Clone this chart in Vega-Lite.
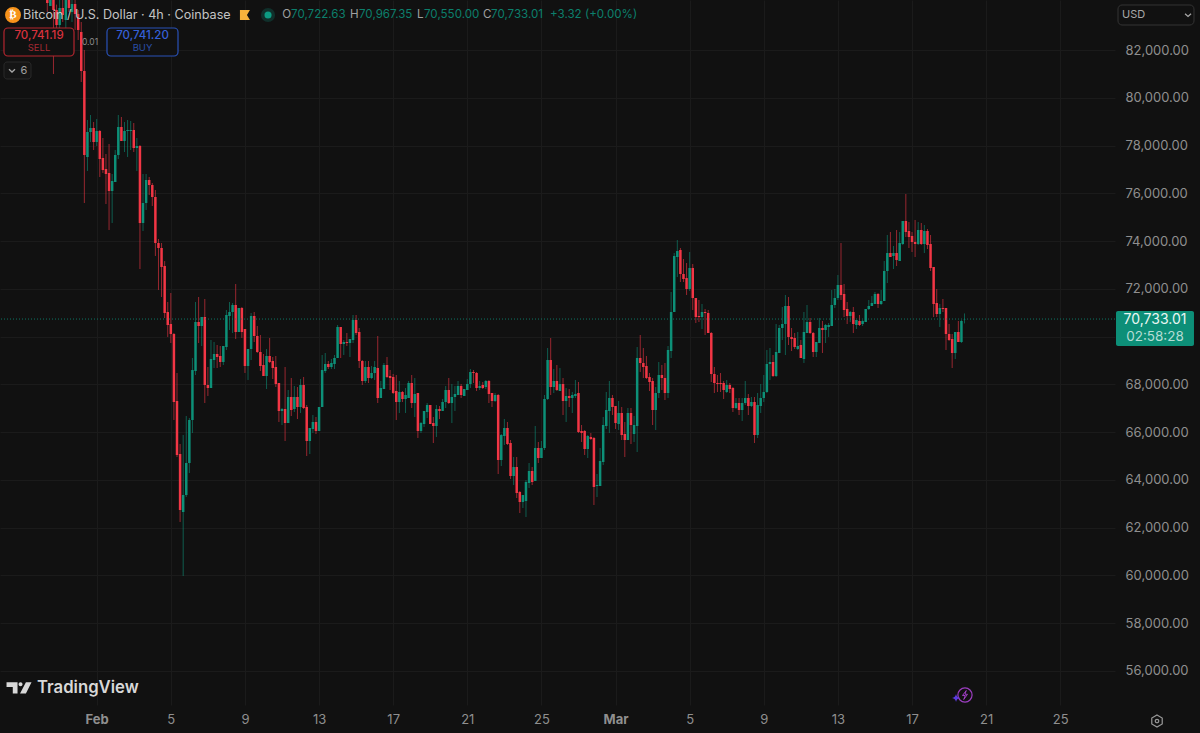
{
"$schema":"https://vega.github.io/schema/vega-lite/v6.json",
"autosize":{"type":"none"},
"padding":{"left":0,"top":0,"right":85,"bottom":28},
"width":1115,"height":705,
"background":"#111111",
"config":{"view":{"stroke":null},"font":"Inter","text":{"font":"Inter"}},
"data":{"values":[
{"t":"2026-01-29T08:00Z","o":84513,"h":84932,"l":83591,"c":83968},
{"t":"2026-01-29T12:00Z","o":83843,"h":84700,"l":83843,"c":84303},
{"t":"2026-01-29T16:00Z","o":84303,"h":84600,"l":80995,"c":83675},
{"t":"2026-01-29T20:00Z","o":83675,"h":83900,"l":82838,"c":83047},
{"t":"2026-01-30T00:00Z","o":83047,"h":84200,"l":82838,"c":83759},
{"t":"2026-01-30T04:00Z","o":83759,"h":84100,"l":83173,"c":83466},
{"t":"2026-01-30T08:00Z","o":83256,"h":84500,"l":82921,"c":84094},
{"t":"2026-01-30T12:00Z","o":84094,"h":84400,"l":83591,"c":83759},
{"t":"2026-01-30T16:00Z","o":83591,"h":84300,"l":83173,"c":83926},
{"t":"2026-01-30T20:00Z","o":83926,"h":84200,"l":82838,"c":83508},
{"t":"2026-01-31T00:00Z","o":83508,"h":83675,"l":82419,"c":82838},
{"t":"2026-01-31T04:00Z","o":82754,"h":83173,"l":80660,"c":81120},
{"t":"2026-01-31T08:00Z","o":81120,"h":82000,"l":75592,"c":77603},
{"t":"2026-01-31T12:00Z","o":77519,"h":79068,"l":76933,"c":78566},
{"t":"2026-01-31T16:00Z","o":78566,"h":79278,"l":78147,"c":78733},
{"t":"2026-01-31T20:00Z","o":78733,"h":78985,"l":77812,"c":78147},
{"t":"2026-02-01T00:00Z","o":78147,"h":79110,"l":77980,"c":78608},
{"t":"2026-02-01T04:00Z","o":78608,"h":78650,"l":76681,"c":77435},
{"t":"2026-02-01T08:00Z","o":77477,"h":78315,"l":76849,"c":76974},
{"t":"2026-02-01T12:00Z","o":77016,"h":77645,"l":75550,"c":76807},
{"t":"2026-02-01T16:00Z","o":76849,"h":78063,"l":74462,"c":76095},
{"t":"2026-02-01T20:00Z","o":76095,"h":76807,"l":74755,"c":76514},
{"t":"2026-02-02T00:00Z","o":76472,"h":77812,"l":76472,"c":77603},
{"t":"2026-02-02T04:00Z","o":77603,"h":79278,"l":77435,"c":78775},
{"t":"2026-02-02T08:00Z","o":78775,"h":79194,"l":78189,"c":78189},
{"t":"2026-02-02T12:00Z","o":78189,"h":78985,"l":77728,"c":78608},
{"t":"2026-02-02T16:00Z","o":78608,"h":79068,"l":77519,"c":78650},
{"t":"2026-02-02T20:00Z","o":78608,"h":79026,"l":77812,"c":78650},
{"t":"2026-02-03T00:00Z","o":78650,"h":78943,"l":77728,"c":77896},
{"t":"2026-02-03T04:00Z","o":77896,"h":78315,"l":76933,"c":77980},
{"t":"2026-02-03T08:00Z","o":77980,"h":78021,"l":72828,"c":74755},
{"t":"2026-02-03T12:00Z","o":74755,"h":76807,"l":74420,"c":75592},
{"t":"2026-02-03T16:00Z","o":75592,"h":76807,"l":75299,"c":76556},
{"t":"2026-02-03T20:00Z","o":76556,"h":76681,"l":75927,"c":76346},
{"t":"2026-02-04T00:00Z","o":76346,"h":76430,"l":75467,"c":75844},
{"t":"2026-02-04T04:00Z","o":75844,"h":76137,"l":73373,"c":73917},
{"t":"2026-02-04T08:00Z","o":73917,"h":74085,"l":71949,"c":73708},
{"t":"2026-02-04T12:00Z","o":73708,"h":73917,"l":71656,"c":72912},
{"t":"2026-02-04T16:00Z","o":72954,"h":73160,"l":70776,"c":70985},
{"t":"2026-02-04T20:00Z","o":71027,"h":71446,"l":69981,"c":70483},
{"t":"2026-02-05T00:00Z","o":70525,"h":71823,"l":69729,"c":70106},
{"t":"2026-02-05T04:00Z","o":70106,"h":70148,"l":66504,"c":67258},
{"t":"2026-02-05T08:00Z","o":67300,"h":68473,"l":64955,"c":65039},
{"t":"2026-02-05T12:00Z","o":65081,"h":65499,"l":62233,"c":62735},
{"t":"2026-02-05T16:00Z","o":62651,"h":65876,"l":59970,"c":63363},
{"t":"2026-02-05T20:00Z","o":63363,"h":66672,"l":63280,"c":64704},
{"t":"2026-02-06T00:00Z","o":64704,"h":66588,"l":64285,"c":66504},
{"t":"2026-02-06T04:00Z","o":66504,"h":69101,"l":65960,"c":68598},
{"t":"2026-02-06T08:00Z","o":68557,"h":71446,"l":68389,"c":70609},
{"t":"2026-02-06T12:00Z","o":70609,"h":71656,"l":69729,"c":70441},
{"t":"2026-02-06T16:00Z","o":70441,"h":70818,"l":69604,"c":70818},
{"t":"2026-02-06T20:00Z","o":70818,"h":71572,"l":67216,"c":67970},
{"t":"2026-02-07T00:00Z","o":67970,"h":68724,"l":67510,"c":67845},
{"t":"2026-02-07T04:00Z","o":67845,"h":69855,"l":67845,"c":69059},
{"t":"2026-02-07T08:00Z","o":69017,"h":69771,"l":68682,"c":69269},
{"t":"2026-02-07T12:00Z","o":69269,"h":69646,"l":68682,"c":69143},
{"t":"2026-02-07T16:00Z","o":69185,"h":69604,"l":68724,"c":68933},
{"t":"2026-02-07T20:00Z","o":68933,"h":69604,"l":68808,"c":69604},
{"t":"2026-02-08T00:00Z","o":69562,"h":71111,"l":69436,"c":70902},
{"t":"2026-02-08T04:00Z","o":70860,"h":71446,"l":70274,"c":71027},
{"t":"2026-02-08T08:00Z","o":71027,"h":71404,"l":70148,"c":71321},
{"t":"2026-02-08T12:00Z","o":71321,"h":72200,"l":69897,"c":70190},
{"t":"2026-02-08T16:00Z","o":70190,"h":71195,"l":70190,"c":71195},
{"t":"2026-02-08T20:00Z","o":71195,"h":71237,"l":69939,"c":70190},
{"t":"2026-02-09T00:00Z","o":70316,"h":70316,"l":68473,"c":68766},
{"t":"2026-02-09T04:00Z","o":68766,"h":69478,"l":68180,"c":69478},
{"t":"2026-02-09T08:00Z","o":69478,"h":70985,"l":69017,"c":70860},
{"t":"2026-02-09T12:00Z","o":70860,"h":71027,"l":69771,"c":70023},
{"t":"2026-02-09T16:00Z","o":70023,"h":70441,"l":69311,"c":69353},
{"t":"2026-02-09T20:00Z","o":69353,"h":70065,"l":68557,"c":68766},
{"t":"2026-02-10T00:00Z","o":68808,"h":69269,"l":68347,"c":68347},
{"t":"2026-02-10T04:00Z","o":68347,"h":69478,"l":67803,"c":69185},
{"t":"2026-02-10T08:00Z","o":69185,"h":69939,"l":68891,"c":68933},
{"t":"2026-02-10T12:00Z","o":68975,"h":69143,"l":68221,"c":68682},
{"t":"2026-02-10T16:00Z","o":68724,"h":69185,"l":67886,"c":68012},
{"t":"2026-02-10T20:00Z","o":68054,"h":68054,"l":66421,"c":66881},
{"t":"2026-02-11T00:00Z","o":66881,"h":67007,"l":66295,"c":66965},
{"t":"2026-02-11T04:00Z","o":66965,"h":68724,"l":65625,"c":66379},
{"t":"2026-02-11T08:00Z","o":66379,"h":67761,"l":66379,"c":67468},
{"t":"2026-02-11T12:00Z","o":67468,"h":68263,"l":66672,"c":66923},
{"t":"2026-02-11T16:00Z","o":66965,"h":67928,"l":66840,"c":67468},
{"t":"2026-02-11T20:00Z","o":67468,"h":67886,"l":66546,"c":67049},
{"t":"2026-02-12T00:00Z","o":67049,"h":68222,"l":66798,"c":67970},
{"t":"2026-02-12T04:00Z","o":67970,"h":68305,"l":66965,"c":67007},
{"t":"2026-02-12T08:00Z","o":67049,"h":67133,"l":64996,"c":65625},
{"t":"2026-02-12T12:00Z","o":65625,"h":66170,"l":65081,"c":66170},
{"t":"2026-02-12T16:00Z","o":66128,"h":66714,"l":65960,"c":66421},
{"t":"2026-02-12T20:00Z","o":66421,"h":66630,"l":65918,"c":66044},
{"t":"2026-02-13T00:00Z","o":66044,"h":67049,"l":66044,"c":67049},
{"t":"2026-02-13T04:00Z","o":67049,"h":69227,"l":67049,"c":68598},
{"t":"2026-02-13T08:00Z","o":68557,"h":69311,"l":68473,"c":68850},
{"t":"2026-02-13T12:00Z","o":68850,"h":68975,"l":68640,"c":68724},
{"t":"2026-02-13T16:00Z","o":68724,"h":69059,"l":68640,"c":68892},
{"t":"2026-02-13T20:00Z","o":68850,"h":69227,"l":68640,"c":69101},
{"t":"2026-02-14T00:00Z","o":69101,"h":70483,"l":69101,"c":70399},
{"t":"2026-02-14T04:00Z","o":70399,"h":70399,"l":69101,"c":69687},
{"t":"2026-02-14T08:00Z","o":69687,"h":69855,"l":69227,"c":69771},
{"t":"2026-02-14T12:00Z","o":69771,"h":70148,"l":69604,"c":69729},
{"t":"2026-02-14T16:00Z","o":69729,"h":69897,"l":69143,"c":69897},
{"t":"2026-02-14T20:00Z","o":69855,"h":70902,"l":69729,"c":70692},
{"t":"2026-02-15T00:00Z","o":70692,"h":70902,"l":70065,"c":70148},
{"t":"2026-02-15T04:00Z","o":70190,"h":70358,"l":68682,"c":68975},
{"t":"2026-02-15T08:00Z","o":68975,"h":69017,"l":67970,"c":68137},
{"t":"2026-02-15T12:00Z","o":68137,"h":68975,"l":68054,"c":68724},
{"t":"2026-02-15T16:00Z","o":68724,"h":68975,"l":68054,"c":68263},
{"t":"2026-02-15T20:00Z","o":68263,"h":68766,"l":68221,"c":68473},
{"t":"2026-02-16T00:00Z","o":68473,"h":68975,"l":68180,"c":68724},
{"t":"2026-02-16T04:00Z","o":68682,"h":70023,"l":67216,"c":67426},
{"t":"2026-02-16T08:00Z","o":67426,"h":68138,"l":67426,"c":67845},
{"t":"2026-02-16T12:00Z","o":67803,"h":68892,"l":67803,"c":68808},
{"t":"2026-02-16T16:00Z","o":68808,"h":69143,"l":68263,"c":68305},
{"t":"2026-02-16T20:00Z","o":68347,"h":68598,"l":67761,"c":68263},
{"t":"2026-02-17T00:00Z","o":68305,"h":68431,"l":67593,"c":67635},
{"t":"2026-02-17T04:00Z","o":67719,"h":68389,"l":66504,"c":67258},
{"t":"2026-02-17T08:00Z","o":67258,"h":68138,"l":66798,"c":67677},
{"t":"2026-02-17T12:00Z","o":67677,"h":67719,"l":67258,"c":67384},
{"t":"2026-02-17T16:00Z","o":67384,"h":67844,"l":66798,"c":67551},
{"t":"2026-02-17T20:00Z","o":67426,"h":68138,"l":67426,"c":68054},
{"t":"2026-02-18T00:00Z","o":68054,"h":68389,"l":67007,"c":67216},
{"t":"2026-02-18T04:00Z","o":67216,"h":68263,"l":66630,"c":67593},
{"t":"2026-02-18T08:00Z","o":67635,"h":67635,"l":65751,"c":66044},
{"t":"2026-02-18T12:00Z","o":66044,"h":66421,"l":65960,"c":66379},
{"t":"2026-02-18T16:00Z","o":66337,"h":66881,"l":66212,"c":66881},
{"t":"2026-02-18T20:00Z","o":66840,"h":67216,"l":66588,"c":67133},
{"t":"2026-02-19T00:00Z","o":67133,"h":67133,"l":66337,"c":66337},
{"t":"2026-02-19T04:00Z","o":66379,"h":66630,"l":65541,"c":66253},
{"t":"2026-02-19T08:00Z","o":66253,"h":67133,"l":65793,"c":66965},
{"t":"2026-02-19T12:00Z","o":66965,"h":67091,"l":66546,"c":66881},
{"t":"2026-02-19T16:00Z","o":66881,"h":67384,"l":66881,"c":67258},
{"t":"2026-02-19T20:00Z","o":67258,"h":67928,"l":67007,"c":67761},
{"t":"2026-02-20T00:00Z","o":67761,"h":68263,"l":67174,"c":67216},
{"t":"2026-02-20T04:00Z","o":67216,"h":68012,"l":66379,"c":67468},
{"t":"2026-02-20T08:00Z","o":67468,"h":67928,"l":66881,"c":67593},
{"t":"2026-02-20T12:00Z","o":67551,"h":68138,"l":67551,"c":67928},
{"t":"2026-02-20T16:00Z","o":67928,"h":68012,"l":67426,"c":67551},
{"t":"2026-02-20T20:00Z","o":67510,"h":67803,"l":67510,"c":67803},
{"t":"2026-02-21T00:00Z","o":67761,"h":68222,"l":67761,"c":68012},
{"t":"2026-02-21T04:00Z","o":68012,"h":68640,"l":67844,"c":68515},
{"t":"2026-02-21T08:00Z","o":68515,"h":68598,"l":68054,"c":68473},
{"t":"2026-02-21T12:00Z","o":68473,"h":68515,"l":67719,"c":67844},
{"t":"2026-02-21T16:00Z","o":67844,"h":68138,"l":67761,"c":67928},
{"t":"2026-02-21T20:00Z","o":67970,"h":68096,"l":67802,"c":67844},
{"t":"2026-02-22T00:00Z","o":67886,"h":68180,"l":67802,"c":68138},
{"t":"2026-02-22T04:00Z","o":68138,"h":68180,"l":67216,"c":67593},
{"t":"2026-02-22T08:00Z","o":67635,"h":67635,"l":67049,"c":67300},
{"t":"2026-02-22T12:00Z","o":67300,"h":67635,"l":67258,"c":67551},
{"t":"2026-02-22T16:00Z","o":67551,"h":67593,"l":64243,"c":64829},
{"t":"2026-02-22T20:00Z","o":64829,"h":65918,"l":64578,"c":65876},
{"t":"2026-02-23T00:00Z","o":65834,"h":66546,"l":65457,"c":66170},
{"t":"2026-02-23T04:00Z","o":66170,"h":66421,"l":65457,"c":65499},
{"t":"2026-02-23T08:00Z","o":65541,"h":65667,"l":64034,"c":64159},
{"t":"2026-02-23T12:00Z","o":64159,"h":64955,"l":63782,"c":64536},
{"t":"2026-02-23T16:00Z","o":64536,"h":64955,"l":63238,"c":63447},
{"t":"2026-02-23T20:00Z","o":63489,"h":63531,"l":62610,"c":63070},
{"t":"2026-02-24T00:00Z","o":63070,"h":63363,"l":62819,"c":63363},
{"t":"2026-02-24T04:00Z","o":63112,"h":63992,"l":62442,"c":63908},
{"t":"2026-02-24T08:00Z","o":63866,"h":64704,"l":63656,"c":64368},
{"t":"2026-02-24T12:00Z","o":64368,"h":64536,"l":63782,"c":63908},
{"t":"2026-02-24T16:00Z","o":63950,"h":66253,"l":63950,"c":65332},
{"t":"2026-02-24T20:00Z","o":65332,"h":65583,"l":64704,"c":64913},
{"t":"2026-02-25T00:00Z","o":64913,"h":65625,"l":64913,"c":65332},
{"t":"2026-02-25T04:00Z","o":65332,"h":67551,"l":65248,"c":67384},
{"t":"2026-02-25T08:00Z","o":67384,"h":69520,"l":67342,"c":69017},
{"t":"2026-02-25T12:00Z","o":69017,"h":69939,"l":67551,"c":67886},
{"t":"2026-02-25T16:00Z","o":67886,"h":68640,"l":67635,"c":68138},
{"t":"2026-02-25T20:00Z","o":68138,"h":68808,"l":67719,"c":67761},
{"t":"2026-02-26T00:00Z","o":67719,"h":68682,"l":67719,"c":68012},
{"t":"2026-02-26T04:00Z","o":68012,"h":68263,"l":66714,"c":67300},
{"t":"2026-02-26T08:00Z","o":67300,"h":67844,"l":66421,"c":67510},
{"t":"2026-02-26T12:00Z","o":67510,"h":67802,"l":67049,"c":67426},
{"t":"2026-02-26T16:00Z","o":67426,"h":67677,"l":66798,"c":67551},
{"t":"2026-02-26T20:00Z","o":67510,"h":68180,"l":67426,"c":67593},
{"t":"2026-02-27T00:00Z","o":67635,"h":68096,"l":65960,"c":66002},
{"t":"2026-02-27T04:00Z","o":66044,"h":66295,"l":65583,"c":65960},
{"t":"2026-02-27T08:00Z","o":66044,"h":66086,"l":65039,"c":65290},
{"t":"2026-02-27T12:00Z","o":65290,"h":65876,"l":64913,"c":65834},
{"t":"2026-02-27T16:00Z","o":65792,"h":65960,"l":65667,"c":65709},
{"t":"2026-02-27T20:00Z","o":65750,"h":65792,"l":62944,"c":63698},
{"t":"2026-02-28T00:00Z","o":63740,"h":64243,"l":63280,"c":63782},
{"t":"2026-02-28T04:00Z","o":63740,"h":65332,"l":63740,"c":64787},
{"t":"2026-02-28T08:00Z","o":64745,"h":66630,"l":64620,"c":66295},
{"t":"2026-02-28T12:00Z","o":66253,"h":67677,"l":66128,"c":66923},
{"t":"2026-02-28T16:00Z","o":66881,"h":68138,"l":65960,"c":67426},
{"t":"2026-02-28T20:00Z","o":67426,"h":67551,"l":66714,"c":67049},
{"t":"2026-03-01T00:00Z","o":67091,"h":67091,"l":66128,"c":66379},
{"t":"2026-03-01T04:00Z","o":66337,"h":67300,"l":66086,"c":66798},
{"t":"2026-03-01T08:00Z","o":66798,"h":67049,"l":65667,"c":65876},
{"t":"2026-03-01T12:00Z","o":65918,"h":66421,"l":64955,"c":65667},
{"t":"2026-03-01T16:00Z","o":65667,"h":67007,"l":65667,"c":66798},
{"t":"2026-03-01T20:00Z","o":66798,"h":67007,"l":65499,"c":66295},
{"t":"2026-03-02T00:00Z","o":65918,"h":66672,"l":65583,"c":66295},
{"t":"2026-03-02T04:00Z","o":66253,"h":69562,"l":65164,"c":69101},
{"t":"2026-03-02T08:00Z","o":69101,"h":70065,"l":68515,"c":68892},
{"t":"2026-03-02T12:00Z","o":68892,"h":69520,"l":68263,"c":68724},
{"t":"2026-03-02T16:00Z","o":68766,"h":69185,"l":68221,"c":68263},
{"t":"2026-03-02T20:00Z","o":68305,"h":68473,"l":67719,"c":68096},
{"t":"2026-03-03T00:00Z","o":68138,"h":68263,"l":66295,"c":66923},
{"t":"2026-03-03T04:00Z","o":66923,"h":67886,"l":66086,"c":67635},
{"t":"2026-03-03T08:00Z","o":67635,"h":68934,"l":67426,"c":68389},
{"t":"2026-03-03T12:00Z","o":68389,"h":68808,"l":67761,"c":68263},
{"t":"2026-03-03T16:00Z","o":68263,"h":68892,"l":67342,"c":67635},
{"t":"2026-03-03T20:00Z","o":67635,"h":69604,"l":67426,"c":69436},
{"t":"2026-03-04T00:00Z","o":69394,"h":71865,"l":69101,"c":71027},
{"t":"2026-03-04T04:00Z","o":71027,"h":73498,"l":71027,"c":73373},
{"t":"2026-03-04T08:00Z","o":73331,"h":74043,"l":72493,"c":73582},
{"t":"2026-03-04T12:00Z","o":73624,"h":73708,"l":72284,"c":72619},
{"t":"2026-03-04T16:00Z","o":72619,"h":73247,"l":72284,"c":72409},
{"t":"2026-03-04T20:00Z","o":72451,"h":73080,"l":71740,"c":71991},
{"t":"2026-03-05T00:00Z","o":71991,"h":73540,"l":71907,"c":72870},
{"t":"2026-03-05T04:00Z","o":72870,"h":73038,"l":71111,"c":71614},
{"t":"2026-03-05T08:00Z","o":71614,"h":71614,"l":70567,"c":70818},
{"t":"2026-03-05T12:00Z","o":70860,"h":71530,"l":70609,"c":70818},
{"t":"2026-03-05T16:00Z","o":70818,"h":71362,"l":70316,"c":71027},
{"t":"2026-03-05T20:00Z","o":71027,"h":71153,"l":70065,"c":70985},
{"t":"2026-03-06T00:00Z","o":70985,"h":71111,"l":70148,"c":70148},
{"t":"2026-03-06T04:00Z","o":70148,"h":70190,"l":68096,"c":68431},
{"t":"2026-03-06T08:00Z","o":68431,"h":68724,"l":67635,"c":68054},
{"t":"2026-03-06T12:00Z","o":68054,"h":68389,"l":67677,"c":68012},
{"t":"2026-03-06T16:00Z","o":68054,"h":68473,"l":67677,"c":68012},
{"t":"2026-03-06T20:00Z","o":68054,"h":68138,"l":67384,"c":67761},
{"t":"2026-03-07T00:00Z","o":67677,"h":68180,"l":67635,"c":67970},
{"t":"2026-03-07T04:00Z","o":67970,"h":68054,"l":67635,"c":67802},
{"t":"2026-03-07T08:00Z","o":67844,"h":67886,"l":66840,"c":67007},
{"t":"2026-03-07T12:00Z","o":67007,"h":67426,"l":66965,"c":67216},
{"t":"2026-03-07T16:00Z","o":67216,"h":67426,"l":66714,"c":66923},
{"t":"2026-03-07T20:00Z","o":66923,"h":67426,"l":66463,"c":67216},
{"t":"2026-03-08T00:00Z","o":67216,"h":68138,"l":67133,"c":67426},
{"t":"2026-03-08T04:00Z","o":67426,"h":67593,"l":66714,"c":67091},
{"t":"2026-03-08T08:00Z","o":67091,"h":67468,"l":67049,"c":67258},
{"t":"2026-03-08T12:00Z","o":67258,"h":67468,"l":65541,"c":65876},
{"t":"2026-03-08T16:00Z","o":65876,"h":67635,"l":65750,"c":67133},
{"t":"2026-03-08T20:00Z","o":67091,"h":68012,"l":66798,"c":67426},
{"t":"2026-03-09T00:00Z","o":67426,"h":68389,"l":67258,"c":67677},
{"t":"2026-03-09T04:00Z","o":67677,"h":69436,"l":67635,"c":68850},
{"t":"2026-03-09T08:00Z","o":68850,"h":69520,"l":68180,"c":68934},
{"t":"2026-03-09T12:00Z","o":68934,"h":69227,"l":68305,"c":68347},
{"t":"2026-03-09T16:00Z","o":68347,"h":70525,"l":68305,"c":69353},
{"t":"2026-03-09T20:00Z","o":69311,"h":70483,"l":69311,"c":70358},
{"t":"2026-03-10T00:00Z","o":70358,"h":71237,"l":69855,"c":70525},
{"t":"2026-03-10T04:00Z","o":70525,"h":71739,"l":69227,"c":71279},
{"t":"2026-03-10T08:00Z","o":71279,"h":71656,"l":69646,"c":69981},
{"t":"2026-03-10T12:00Z","o":69981,"h":70358,"l":69394,"c":69897},
{"t":"2026-03-10T16:00Z","o":69939,"h":70148,"l":69478,"c":69562},
{"t":"2026-03-10T20:00Z","o":69478,"h":70190,"l":69436,"c":69604},
{"t":"2026-03-11T00:00Z","o":69646,"h":69855,"l":69101,"c":69101},
{"t":"2026-03-11T04:00Z","o":69059,"h":71027,"l":68892,"c":70190},
{"t":"2026-03-11T08:00Z","o":70148,"h":71321,"l":70148,"c":70609},
{"t":"2026-03-11T12:00Z","o":70609,"h":70776,"l":70106,"c":70148},
{"t":"2026-03-11T16:00Z","o":70148,"h":70190,"l":69143,"c":69353},
{"t":"2026-03-11T20:00Z","o":69353,"h":69771,"l":69143,"c":69771},
{"t":"2026-03-12T00:00Z","o":69729,"h":70776,"l":69729,"c":70358},
{"t":"2026-03-12T04:00Z","o":70358,"h":70651,"l":69311,"c":70274},
{"t":"2026-03-12T08:00Z","o":70274,"h":70525,"l":69729,"c":70483},
{"t":"2026-03-12T12:00Z","o":70400,"h":70567,"l":69981,"c":70483},
{"t":"2026-03-12T16:00Z","o":70441,"h":71949,"l":70441,"c":71321},
{"t":"2026-03-12T20:00Z","o":71321,"h":71991,"l":71195,"c":71614},
{"t":"2026-03-13T00:00Z","o":71614,"h":72577,"l":71530,"c":72158},
{"t":"2026-03-13T04:00Z","o":72158,"h":73917,"l":71530,"c":71739},
{"t":"2026-03-13T08:00Z","o":71781,"h":72200,"l":70818,"c":71111},
{"t":"2026-03-13T12:00Z","o":71153,"h":71446,"l":70525,"c":70860},
{"t":"2026-03-13T16:00Z","o":70860,"h":71069,"l":70609,"c":71027},
{"t":"2026-03-13T20:00Z","o":71027,"h":71237,"l":70148,"c":70525},
{"t":"2026-03-14T00:00Z","o":70483,"h":70692,"l":70316,"c":70692},
{"t":"2026-03-14T04:00Z","o":70651,"h":70902,"l":70441,"c":70483},
{"t":"2026-03-14T08:00Z","o":70525,"h":70692,"l":70441,"c":70651},
{"t":"2026-03-14T12:00Z","o":70609,"h":71153,"l":70609,"c":71153},
{"t":"2026-03-14T16:00Z","o":71153,"h":71530,"l":71111,"c":71279},
{"t":"2026-03-14T20:00Z","o":71279,"h":71697,"l":71279,"c":71404},
{"t":"2026-03-15T00:00Z","o":71362,"h":71865,"l":71362,"c":71781},
{"t":"2026-03-15T04:00Z","o":71781,"h":71823,"l":71195,"c":71362},
{"t":"2026-03-15T08:00Z","o":71362,"h":71949,"l":71321,"c":71488},
{"t":"2026-03-15T12:00Z","o":71488,"h":73163,"l":71488,"c":72744},
{"t":"2026-03-15T16:00Z","o":72744,"h":74252,"l":72242,"c":73498},
{"t":"2026-03-15T20:00Z","o":73498,"h":74378,"l":73331,"c":73331},
{"t":"2026-03-16T00:00Z","o":73373,"h":73792,"l":72828,"c":73498},
{"t":"2026-03-16T04:00Z","o":73498,"h":74462,"l":72954,"c":73205},
{"t":"2026-03-16T08:00Z","o":73163,"h":74378,"l":73163,"c":73917},
{"t":"2026-03-16T12:00Z","o":73875,"h":74839,"l":73833,"c":74839},
{"t":"2026-03-16T16:00Z","o":74839,"h":75969,"l":74169,"c":74378},
{"t":"2026-03-16T20:00Z","o":74420,"h":74797,"l":73708,"c":74169},
{"t":"2026-03-17T00:00Z","o":74210,"h":74378,"l":73540,"c":73959},
{"t":"2026-03-17T04:00Z","o":73959,"h":74880,"l":73331,"c":73875},
{"t":"2026-03-17T08:00Z","o":73875,"h":74797,"l":73833,"c":74462},
{"t":"2026-03-17T12:00Z","o":74462,"h":74755,"l":73833,"c":73875},
{"t":"2026-03-17T16:00Z","o":73875,"h":74671,"l":73498,"c":74420},
{"t":"2026-03-17T20:00Z","o":74420,"h":74504,"l":73666,"c":73833},
{"t":"2026-03-18T00:00Z","o":73875,"h":74252,"l":72744,"c":72870},
{"t":"2026-03-18T04:00Z","o":72912,"h":72912,"l":70818,"c":71362},
{"t":"2026-03-18T08:00Z","o":71404,"h":71991,"l":70818,"c":70944},
{"t":"2026-03-18T12:00Z","o":70944,"h":71363,"l":70400,"c":71195},
{"t":"2026-03-18T16:00Z","o":71195,"h":71572,"l":71027,"c":71153},
{"t":"2026-03-18T20:00Z","o":71195,"h":71195,"l":69436,"c":70106},
{"t":"2026-03-19T00:00Z","o":70106,"h":70525,"l":69813,"c":69855},
{"t":"2026-03-19T04:00Z","o":69897,"h":70106,"l":68682,"c":69311},
{"t":"2026-03-19T08:00Z","o":69311,"h":70190,"l":69059,"c":70190},
{"t":"2026-03-19T12:00Z","o":70190,"h":70651,"l":69771,"c":69771},
{"t":"2026-03-19T16:00Z","o":69771,"h":70692,"l":69729,"c":70651},
{"t":"2026-03-19T20:00Z","o":70722.63,"h":70967.35,"l":70550,"c":70733.01}
]},
"layer":[
{"mark":{"type":"rule","strokeWidth":1,"opacity":0.6,"clip":true},
 "encoding":{
  "x":{"field":"t","type":"temporal","title":null,
   "scale":{"type":"utc","padding":0,"domain":["2026-01-26T18:45:00Z","2026-03-27T22:54:00Z"]},
   "axis":{"values":["2026-02-01T00:00:00Z","2026-02-05T00:00:00Z","2026-02-09T00:00:00Z","2026-02-13T00:00:00Z","2026-02-17T00:00:00Z","2026-02-21T00:00:00Z","2026-02-25T00:00:00Z","2026-03-01T00:00:00Z","2026-03-05T00:00:00Z","2026-03-09T00:00:00Z","2026-03-13T00:00:00Z","2026-03-17T00:00:00Z","2026-03-21T00:00:00Z","2026-03-25T00:00:00Z"],
    "labelExpr":"utcdate(datum.value)==1 ? utcFormat(datum.value,'%b') : utcdate(datum.value)",
    "labelFontWeight":{"condition":{"test":"utcdate(datum.value)==1","value":700},"value":400},
    "grid":true,"gridColor":"#1b1b1b","domain":false,"ticks":false,"labelColor":"#8f8f8f","labelFontSize":13,"labelPadding":8,"labelOverlap":false,"labelFlush":false}},
  "y":{"field":"l","type":"quantitative","title":null,
   "scale":{"domain":[54569,84094],"zero":false,"nice":false},
   "axis":{"orient":"right","values":[56000,58000,60000,62000,64000,66000,68000,70000,72000,74000,76000,78000,80000,82000],
    "labelExpr":"datum.value==70000 ? '' : format(datum.value,',.2f')",
    "grid":true,"gridColor":"#1b1b1b","domain":false,"ticks":false,"labelColor":"#8f8f8f","labelFontSize":13,"labelPadding":10}},
  "y2":{"field":"h"},
  "color":{"condition":{"test":"datum.c>=datum.o","value":"#0d9078"},"value":"#f23645"}}},
{"mark":{"type":"bar","width":2.5,"clip":true},
 "encoding":{
  "x":{"field":"t","type":"temporal"},
  "y":{"field":"o","type":"quantitative"},
  "y2":{"field":"c"},
  "color":{"condition":{"test":"datum.c>=datum.o","value":"#0d9078"},"value":"#f23645"}}},
{"data":{"values":[{"p":70733.01}]},
 "mark":{"type":"rule","color":"#0d9078","strokeWidth":1,"strokeDash":[1,2],"opacity":0.8},
 "encoding":{"y":{"field":"p","type":"quantitative"}}},
{"data":{"values":[{"t":"2026-03-28T00:12:00Z","t2":"2026-04-01T05:12:00Z","p":71070,"p2":69604}]},
 "mark":{"type":"rect","color":"#0d8f78","cornerRadius":2,"clip":false},
 "encoding":{"x":{"field":"t","type":"temporal"},"x2":{"field":"t2"},"y":{"field":"p","type":"quantitative"},"y2":{"field":"p2"}}},
{"data":{"values":[{"t":"2026-03-30T02:42:00Z","p":70692,"label":"70,733.01"}]},
 "mark":{"type":"text","color":"#eaf6f3","fontSize":14,"align":"center","baseline":"middle"},
 "encoding":{"x":{"field":"t","type":"temporal"},"y":{"field":"p","type":"quantitative"},"text":{"field":"label"}}},
{"data":{"values":[{"t":"2026-03-30T02:42:00Z","p":69980,"label":"02:58:28"}]},
 "mark":{"type":"text","color":"#b5ddd5","fontSize":13.5,"align":"center","baseline":"middle"},
 "encoding":{"x":{"field":"t","type":"temporal"},"y":{"field":"p","type":"quantitative"},"text":{"field":"label"}}},
{"data":{"values":[{"t":"2026-01-26T23:54:00Z","t2":"2026-01-30T18:36:00Z","p":82921,"p2":81749}]},
 "mark":{"type":"rect","fill":"#111111","stroke":"#b3262f","strokeWidth":1.2,"cornerRadius":4,"clip":false},
 "encoding":{"x":{"field":"t","type":"temporal"},"x2":{"field":"t2"},"y":{"field":"p","type":"quantitative"},"y2":{"field":"p2"}}},
{"data":{"values":[{"t":"2026-02-01T13:18:00Z","t2":"2026-02-05T09:18:00Z","p":82921,"p2":81749}]},
 "mark":{"type":"rect","fill":"#111111","stroke":"#2a52b8","strokeWidth":1.2,"cornerRadius":4,"clip":false},
 "encoding":{"x":{"field":"t","type":"temporal"},"x2":{"field":"t2"},"y":{"field":"p","type":"quantitative"},"y2":{"field":"p2"}}},
{"data":{"values":[{"t":"2026-01-26T23:54:00Z","t2":"2026-01-28T10:54:00Z","p":81497,"p2":80786}]},
 "mark":{"type":"rect","fill":"#151515","stroke":"#2a2a2a","strokeWidth":1,"cornerRadius":3,"clip":false},
 "encoding":{"x":{"field":"t","type":"temporal"},"x2":{"field":"t2"},"y":{"field":"p","type":"quantitative"},"y2":{"field":"p2"}}},
{"data":{"values":[{"t":"2026-03-28T02:48:00Z","t2":"2026-04-01T05:12:00Z","p":83885,"p2":83047}]},
 "mark":{"type":"rect","fill":"#111111","stroke":"#343434","strokeWidth":1,"cornerRadius":4,"clip":false},
 "encoding":{"x":{"field":"t","type":"temporal"},"x2":{"field":"t2"},"y":{"field":"p","type":"quantitative"},"y2":{"field":"p2"}}},
{"data":{"values":[{"t":"2026-01-28T21:18:00Z","p":82586,"label":"70,741.19"}]},
 "mark":{"type":"text","color":"#d9323d","fontSize":11.5,"fontWeight":500,"align":"center","baseline":"middle"},
 "encoding":{"x":{"field":"t","type":"temporal"},"y":{"field":"p","type":"quantitative"},"text":{"field":"label"}}},
{"data":{"values":[{"t":"2026-01-28T21:18:00Z","p":82084,"label":"SELL"}]},
 "mark":{"type":"text","color":"#a52a33","fontSize":9.5,"align":"center","baseline":"middle"},
 "encoding":{"x":{"field":"t","type":"temporal"},"y":{"field":"p","type":"quantitative"},"text":{"field":"label"}}},
{"data":{"values":[{"t":"2026-02-03T11:18:00Z","p":82586,"label":"70,741.20"}]},
 "mark":{"type":"text","color":"#3560d8","fontSize":11.5,"fontWeight":500,"align":"center","baseline":"middle"},
 "encoding":{"x":{"field":"t","type":"temporal"},"y":{"field":"p","type":"quantitative"},"text":{"field":"label"}}},
{"data":{"values":[{"t":"2026-02-03T11:18:00Z","p":82084,"label":"BUY"}]},
 "mark":{"type":"text","color":"#2a4fa8","fontSize":9.5,"align":"center","baseline":"middle"},
 "encoding":{"x":{"field":"t","type":"temporal"},"y":{"field":"p","type":"quantitative"},"text":{"field":"label"}}},
{"data":{"values":[{"t":"2026-01-31T15:18:00Z","p":82335,"label":"0.01"}]},
 "mark":{"type":"text","color":"#8a8a8a","fontSize":8.5,"align":"center","baseline":"middle"},
 "encoding":{"x":{"field":"t","type":"temporal"},"y":{"field":"p","type":"quantitative"},"text":{"field":"label"}}},
{"data":{"values":[{"t":"2026-01-28T01:48:00Z","p":81120,"label":"6"}]},
 "mark":{"type":"text","color":"#a0a0a0","fontSize":11,"align":"center","baseline":"middle"},
 "encoding":{"x":{"field":"t","type":"temporal"},"y":{"field":"p","type":"quantitative"},"text":{"field":"label"}}},
{"data":{"values":[{"t":"2026-01-27T10:18:00Z","p":81140},{"t":"2026-03-31T21:30:00Z","p":83466}]},
 "mark":{"type":"point","shape":"M-1,-0.4 L0,0.5 L1,-0.4","filled":false,"size":36,"color":"#a8a8a8","strokeWidth":1.3,"opacity":1,"clip":false},
 "encoding":{"x":{"field":"t","type":"temporal"},"y":{"field":"p","type":"quantitative"}}},
{"data":{"values":[{"t":"2026-03-28T08:00:00Z","p":83466,"label":"USD"}]},
 "mark":{"type":"text","color":"#a8a8a8","fontSize":11,"align":"left","baseline":"middle"},
 "encoding":{"x":{"field":"t","type":"temporal"},"y":{"field":"p","type":"quantitative"},"text":{"field":"label"}}},
{"data":{"values":[{"t":"2026-01-27T11:36:00Z","p":83466}]},
 "mark":{"type":"point","shape":"circle","filled":true,"size":254,"color":"#f7931a","opacity":1,"clip":false},
 "encoding":{"x":{"field":"t","type":"temporal"},"y":{"field":"p","type":"quantitative"}}},
{"data":{"values":[{"t":"2026-01-27T11:36:00Z","p":83466,"label":"₿"}]},
 "mark":{"type":"text","font":"DejaVu Sans","color":"#ffffff","fontSize":11,"fontWeight":700,"align":"center","baseline":"middle"},
 "encoding":{"x":{"field":"t","type":"temporal"},"y":{"field":"p","type":"quantitative"},"text":{"field":"label"}}},
{"data":{"values":[{"t":"2026-01-28T00:30:00Z","p":83466,"label":"Bitcoin / U.S. Dollar · 4h · Coinbase"}]},
 "mark":{"type":"text","color":"#c4c4c4","fontSize":12.6,"align":"left","baseline":"middle"},
 "encoding":{"x":{"field":"t","type":"temporal"},"y":{"field":"p","type":"quantitative"},"text":{"field":"label"}}},
{"data":{"values":[{"t":"2026-02-09T00:00:00Z","p":83466}]},
 "mark":{"type":"point","shape":"M-1,-1 L1,-1 L0.4,0 L1,1 L-1,1 Z","filled":true,"size":100,"color":"#f6b23c","opacity":1,"clip":false},
 "encoding":{"x":{"field":"t","type":"temporal"},"y":{"field":"p","type":"quantitative"}}},
{"data":{"values":[{"t":"2026-02-10T05:54:00Z","p":83466}]},
 "mark":{"type":"point","shape":"circle","filled":true,"size":200,"color":"#10302b","opacity":1,"clip":false},
 "encoding":{"x":{"field":"t","type":"temporal"},"y":{"field":"p","type":"quantitative"}}},
{"data":{"values":[{"t":"2026-02-10T05:54:00Z","p":83466}]},
 "mark":{"type":"point","shape":"circle","filled":true,"size":50,"color":"#0d9b82","opacity":1,"clip":false},
 "encoding":{"x":{"field":"t","type":"temporal"},"y":{"field":"p","type":"quantitative"}}},
{"data":{"values":[{"t":"2026-02-11T00:24:00Z","p":83466,"label":"O"},{"t":"2026-02-14T16:00:00Z","p":83466,"label":"H"},{"t":"2026-02-18T06:54:00Z","p":83466,"label":"L"},{"t":"2026-02-21T20:18:00Z","p":83466,"label":"C"}]},
 "mark":{"type":"text","color":"#a0a0a0","fontSize":11.6,"align":"left","baseline":"middle"},
 "encoding":{"x":{"field":"t","type":"temporal"},"y":{"field":"p","type":"quantitative"},"text":{"field":"label"}}},
{"data":{"values":[{"t":"2026-02-11T11:42:00Z","p":83466,"label":"70,722.63"},{"t":"2026-02-15T03:42:00Z","p":83466,"label":"70,967.35"},{"t":"2026-02-18T15:54:00Z","p":83466,"label":"70,550.00"},{"t":"2026-02-22T06:42:00Z","p":83466,"label":"70,733.01"},{"t":"2026-02-25T11:06:00Z","p":83466,"label":"+3.32 (+0.00%)"}]},
 "mark":{"type":"text","color":"#0c7f6c","fontSize":11.6,"align":"left","baseline":"middle"},
 "encoding":{"x":{"field":"t","type":"temporal"},"y":{"field":"p","type":"quantitative"},"text":{"field":"label"}}},
{"data":{"values":[{"t":"2026-01-27T19:24:00Z","p":55281}]},
 "mark":{"type":"point","shape":"M-1,-0.45 L-0.12,-0.45 L-0.12,0.45 L-0.5,0.45 L-0.5,-0.08 L-1,-0.08 Z M0.28,-0.3 A0.16,0.16 0 1 1 -0.04,-0.3 A0.16,0.16 0 1 1 0.28,-0.3 Z M0.55,-0.45 L1,-0.45 L0.55,0.45 L0.08,0.45 Z","filled":true,"size":625,"color":"#d8d8d8","opacity":1,"clip":false},
 "encoding":{"x":{"field":"t","type":"temporal"},"y":{"field":"p","type":"quantitative"}}},
{"data":{"values":[{"t":"2026-01-28T18:42:00Z","p":55281,"label":"TradingView"}]},
 "mark":{"type":"text","color":"#d8d8d8","fontSize":16.7,"fontWeight":600,"align":"left","baseline":"middle"},
 "encoding":{"x":{"field":"t","type":"temporal"},"y":{"field":"p","type":"quantitative"},"text":{"field":"label"}}},
{"data":{"values":[{"t":"2026-03-19T20:36:00Z","p":54987}]},
 "mark":{"type":"point","shape":"circle","filled":false,"size":201,"color":"#9c3ec0","strokeWidth":1.2,"opacity":1,"clip":false},
 "encoding":{"x":{"field":"t","type":"temporal"},"y":{"field":"p","type":"quantitative"}}},
{"data":{"values":[{"t":"2026-03-19T20:36:00Z","p":54987}]},
 "mark":{"type":"point","shape":"M0.25,-0.9 L-0.5,0.1 L0.05,0.1 L-0.25,0.9 L0.5,-0.15 L0,-0.15 Z","filled":false,"size":100,"color":"#9c3ec0","strokeWidth":1,"opacity":1,"clip":false},
 "encoding":{"x":{"field":"t","type":"temporal"},"y":{"field":"p","type":"quantitative"}}},
{"data":{"values":[{"t":"2026-03-19T09:00:00Z","p":54862}]},
 "mark":{"type":"point","shape":"M0,-1 Q0.15,-0.15 1,0 Q0.15,0.15 0,1 Q-0.15,0.15 -1,0 Q-0.15,-0.15 0,-1 Z","filled":true,"size":64,"color":"#5a3be0","opacity":1,"clip":false},
 "encoding":{"x":{"field":"t","type":"temporal"},"y":{"field":"p","type":"quantitative"}}},
{"data":{"values":[{"t":"2026-03-30T05:18:00Z","p":53898}]},
 "mark":{"type":"point","shape":"M0,-1 L0.87,-0.5 L0.87,0.5 L0,1 L-0.87,0.5 L-0.87,-0.5 Z","filled":false,"size":144,"color":"#9a9a9a","strokeWidth":1.2,"opacity":1,"clip":false},
 "encoding":{"x":{"field":"t","type":"temporal"},"y":{"field":"p","type":"quantitative"}}},
{"data":{"values":[{"t":"2026-03-30T05:18:00Z","p":53898}]},
 "mark":{"type":"point","shape":"circle","filled":false,"size":12,"color":"#9a9a9a","strokeWidth":1.2,"opacity":1,"clip":false},
 "encoding":{"x":{"field":"t","type":"temporal"},"y":{"field":"p","type":"quantitative"}}}
]
}
